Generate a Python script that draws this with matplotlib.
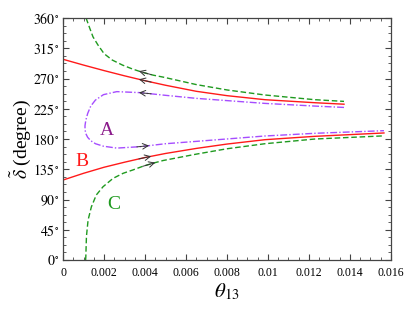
import numpy as np
import matplotlib
matplotlib.use('Agg')
import matplotlib.pyplot as plt
from matplotlib.ticker import MultipleLocator, FixedLocator, FixedFormatter

plt.rcParams['font.family'] = ['Liberation Serif', 'DejaVu Serif']
plt.rcParams['mathtext.fontset'] = 'stix'

# curve C (green dashed), upper and lower branch
c_up_theta = [0.00112, 0.00117, 0.0013, 0.00146, 0.0017, 0.002, 0.0024, 0.0029, 0.0034, 0.0039,
              0.0044, 0.0049, 0.0065, 0.008, 0.00985, 0.01229, 0.01371]
c_up_delta = [360, 356, 345, 332, 320, 307, 297.5, 290, 284, 279,
              275, 272, 261, 253, 245.5, 238.5, 236]
c_lo_theta = [0.00110, 0.00111, 0.00114, 0.00122, 0.00138, 0.00162, 0.00195, 0.00244, 0.00293, 0.00341,
              0.0039, 0.00439, 0.00488, 0.0065, 0.008, 0.00985, 0.01229, 0.01566]
c_lo_delta = [0, 5, 35, 59.5, 79, 96.7, 109, 121.5, 129, 134,
              139.5, 144, 148, 157.5, 165.5, 173, 180, 184.7]

# curve B (red solid)
b_up_theta = [0, 0.001, 0.002, 0.003, 0.004, 0.005, 0.0065, 0.008, 0.00985, 0.01229, 0.01371]
b_up_delta = [298.6, 290, 281.8, 274, 266.7, 260, 251, 244.5, 238.5, 234, 231.8]
b_lo_theta = [0, 0.001, 0.002, 0.003, 0.004, 0.005, 0.0065, 0.008, 0.00985, 0.01229, 0.01566]
b_lo_delta = [119, 129, 138, 145.5, 152.5, 158.5, 166, 172.5, 179, 184, 189]

# curve A (purple dash-dot), one path from upper right round to lower right
a_theta = [0.01371, 0.01229, 0.00985, 0.0065, 0.005, 0.00376, 0.00262, 0.00197, 0.00158, 0.00135,
           0.0012, 0.00111, 0.00107, 0.00107, 0.00111, 0.0012, 0.00135, 0.00158, 0.00197, 0.00262,
           0.00376, 0.005, 0.0065, 0.00985, 0.01229, 0.01566]
a_delta = [227, 229, 233, 240.5, 245, 249, 250.5, 246, 238, 229,
           218, 208, 200, 194, 188, 182.5, 177.5, 173, 169.3, 166.5,
           168.6, 173, 176.5, 184.5, 188.5, 192.4]

x_ticks = [0, 0.002, 0.004, 0.006, 0.008, 0.01, 0.012, 0.014, 0.016]
x_labels = ['0', '0.002', '0.004', '0.006', '0.008', '0.01', '0.012', '0.014', '0.016']
y_ticks = [0, 45, 90, 135, 180, 225, 270, 315, 360]

green = '#1f9a1f'
red = '#ff1a1a'
purple = '#a64dff'

fig = plt.figure(figsize=(4.15, 3.11), dpi=100)
ax = fig.add_axes([0.152, 0.164, 0.79, 0.778])

ax.plot(c_up_theta, c_up_delta, color=green, lw=1.0, dashes=(4, 2))
ax.plot(c_lo_theta, c_lo_delta, color=green, lw=1.0, dashes=(4, 2))
ax.plot(b_up_theta, b_up_delta, color=red, lw=1.0)
ax.plot(b_lo_theta, b_lo_delta, color=red, lw=1.0)
ax.plot(a_theta, a_delta, color=purple, lw=1.0, dashes=(5, 1.5, 1, 1.5))

# direction arrows: upper branches point left, lower branches point right
def arrow(th, de, head, tail):
    order = np.argsort(th)
    th = np.asarray(th)[order]
    de = np.asarray(de)[order]
    ax.annotate('', xy=(head, np.interp(head, th, de)),
                xytext=(tail, np.interp(tail, th, de)),
                arrowprops=dict(arrowstyle='->', color='#333333', lw=0.7,
                                shrinkA=0, shrinkB=0, mutation_scale=10))

arrow(c_up_theta, c_up_delta, 0.0037, 0.0043)
arrow(b_up_theta, b_up_delta, 0.0037, 0.0043)
arrow(a_theta[:12], a_delta[:12], 0.0037, 0.0043)
arrow(a_theta[14:], a_delta[14:], 0.0042, 0.0036)
arrow(b_lo_theta, b_lo_delta, 0.0043, 0.0037)
arrow(c_lo_theta[4:], c_lo_delta[4:], 0.0045, 0.0039)

ax.text(0.00215, 192, 'A', color='#8b1a8b', fontsize=14, ha='center', va='center')
ax.text(0.00091, 146, 'B', color=red, fontsize=14, ha='center', va='center')
ax.text(0.00245, 82, 'C', color=green, fontsize=14, ha='center', va='center')

ax.set_xlim(0, 0.016)
ax.set_ylim(0, 360)
ax.xaxis.set_major_locator(FixedLocator(x_ticks))
ax.xaxis.set_major_formatter(FixedFormatter(x_labels))
ax.xaxis.set_minor_locator(MultipleLocator(0.0005))
ax.yaxis.set_major_locator(FixedLocator(y_ticks))
ax.set_yticklabels([r'$%d^{\circ}$' % v for v in y_ticks])
ax.yaxis.set_minor_locator(MultipleLocator(11.25))

ax.tick_params(which='both', direction='in', top=True, right=True, color='#444444')
ax.tick_params(which='major', length=4, width=0.8)
ax.tick_params(which='minor', length=2, width=0.6)
ax.tick_params(axis='x', labelsize=8.5, pad=5)
ax.tick_params(axis='y', labelsize=10, pad=3)
for s in ax.spines.values():
    s.set_color('#444444')
    s.set_linewidth(0.9)

ax.set_xlabel(r'$\theta_{13}$', fontsize=15, labelpad=2)
ax.set_ylabel(r'$\tilde{\delta}$ (degree)', fontsize=14, labelpad=0)

plt.savefig('out.png', dpi=100)
